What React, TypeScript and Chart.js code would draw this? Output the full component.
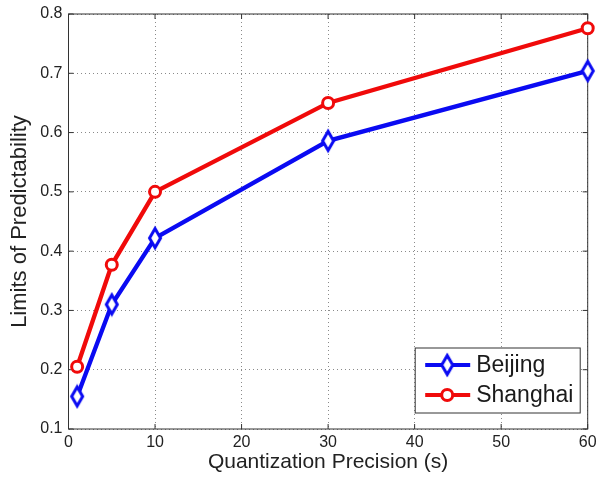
import React, { useEffect, useRef } from "react";
import { Chart, registerables } from "chart.js";

Chart.register(...registerables);

const precision = [1, 5, 10, 30, 60];
const beijing = [0.155, 0.31, 0.422, 0.586, 0.704];
const shanghai = [0.205, 0.377, 0.5, 0.65, 0.776];
const seriesNames = ["Beijing", "Shanghai"];
const xTitle = "Quantization Precision (s)";
const yTitle = "Limits of Predictability";

const BLUE = "#0a0af2";
const RED = "#f00a0a";
const FONT = "'Liberation Sans', Arial, Helvetica, sans-serif";

function makeDiamond(color: string): HTMLCanvasElement {
  const c = document.createElement("canvas");
  c.width = 18;
  c.height = 26;
  const ctx = c.getContext("2d")!;
  ctx.beginPath();
  ctx.moveTo(9, 3.5);
  ctx.lineTo(14.5, 13);
  ctx.lineTo(9, 22.5);
  ctx.lineTo(3.5, 13);
  ctx.closePath();
  ctx.fillStyle = "#ffffff";
  ctx.fill();
  ctx.lineWidth = 3;
  ctx.strokeStyle = color;
  ctx.lineJoin = "miter";
  ctx.stroke();
  return c;
}

export default function App() {
  const ref = useRef<HTMLCanvasElement | null>(null);
  useEffect(() => {
    if (!ref.current) return;
    const diamond = makeDiamond(BLUE);

    const boxPlugin = {
      id: "boxPlugin",
      beforeDatasetsDraw(chart: any) {
        const { ctx, chartArea } = chart;
        const { left, right, top, bottom } = chartArea;
        ctx.save();
        ctx.strokeStyle = "#333333";
        ctx.lineWidth = 1;
        ctx.strokeRect(left, top, right - left, bottom - top);
        const xs = chart.scales.x;
        const ys = chart.scales.y;
        const tl = 5;
        ctx.beginPath();
        xs.ticks.forEach((t: any) => {
          const px = xs.getPixelForValue(t.value);
          ctx.moveTo(px, bottom);
          ctx.lineTo(px, bottom - tl);
          ctx.moveTo(px, top);
          ctx.lineTo(px, top + tl);
        });
        ys.ticks.forEach((t: any) => {
          const py = ys.getPixelForValue(t.value);
          ctx.moveTo(left, py);
          ctx.lineTo(left + tl, py);
          ctx.moveTo(right, py);
          ctx.lineTo(right - tl, py);
        });
        ctx.stroke();
        ctx.restore();
      },
      afterDraw(chart: any) {
        const { ctx, chartArea } = chart;
        const bx1 = chartArea.right - 7.5;
        const bx0 = bx1 - 165;
        const by1 = chartArea.bottom - 16;
        const by0 = by1 - 65;
        ctx.save();
        ctx.fillStyle = "#ffffff";
        ctx.fillRect(bx0, by0, bx1 - bx0, by1 - by0);
        ctx.strokeStyle = "#333333";
        ctx.lineWidth = 1;
        ctx.strokeRect(bx0, by0, bx1 - bx0, by1 - by0);
        const rows = [by0 + 17, by0 + 47];
        const colors = [BLUE, RED];
        rows.forEach((yy, i) => {
          ctx.strokeStyle = colors[i];
          ctx.lineWidth = 4;
          ctx.beginPath();
          ctx.moveTo(bx0 + 10, yy);
          ctx.lineTo(bx0 + 55, yy);
          ctx.stroke();
          const mx = bx0 + 32;
          if (i === 0) {
            ctx.drawImage(diamond, mx - diamond.width / 2, yy - diamond.height / 2);
          } else {
            ctx.beginPath();
            ctx.arc(mx, yy, 5.5, 0, Math.PI * 2);
            ctx.fillStyle = "#ffffff";
            ctx.fill();
            ctx.lineWidth = 3;
            ctx.stroke();
          }
          ctx.fillStyle = "#1a1a1a";
          ctx.font = `23px ${FONT}`;
          ctx.textAlign = "left";
          ctx.textBaseline = "middle";
          ctx.fillText(seriesNames[i], bx0 + 61, yy + 1);
        });
        ctx.restore();
      },
    };

    const chart = new Chart(ref.current, {
      type: "line",
      data: {
        datasets: [
          {
            label: seriesNames[0],
            data: precision.map((x, i) => ({ x, y: beijing[i] })),
            borderColor: BLUE,
            backgroundColor: "#ffffff",
            borderWidth: 4.3,
            pointStyle: diamond as any,
            pointRadius: 7,
            clip: false as any,
          },
          {
            label: seriesNames[1],
            data: precision.map((x, i) => ({ x, y: shanghai[i] })),
            borderColor: RED,
            backgroundColor: "#ffffff",
            borderWidth: 4.3,
            pointStyle: "circle",
            pointRadius: 5.5,
            pointBorderWidth: 3,
            pointBackgroundColor: "#ffffff",
            clip: false as any,
          },
        ],
      },
      options: {
        animation: false,
        responsive: false,
        devicePixelRatio: 1,
        layout: { padding: { left: 0, right: 7, top: 14, bottom: 0 } },
        plugins: { legend: { display: false }, tooltip: { enabled: false } },
        scales: {
          x: {
            type: "linear",
            min: 0,
            max: 60,
            afterFit: (s: any) => {
              s.height = 51;
              s.paddingLeft = 0;
              s.paddingRight = 0;
            },
            ticks: {
              stepSize: 10,
              padding: 4,
              color: "#222222",
              font: { family: FONT, size: 16 },
              maxRotation: 0,
            },
            grid: { color: "#8a8a8a", lineWidth: 1, drawTicks: false },
            border: { display: false, dash: [1, 3] },
            title: {
              display: true,
              text: xTitle,
              color: "#222222",
              font: { family: FONT, size: 21 },
              padding: { top: 0, bottom: 4.8 },
            },
          },
          y: {
            type: "linear",
            min: 0.1,
            max: 0.8,
            afterFit: (s: any) => {
              s.width = 68.5;
              s.paddingTop = 0;
              s.paddingBottom = 0;
            },
            ticks: {
              stepSize: 0.1,
              padding: 6,
              color: "#222222",
              font: { family: FONT, size: 16 },
              callback: (v: any) => Number(v).toFixed(1),
            },
            grid: { color: "#8a8a8a", lineWidth: 1, drawTicks: false },
            border: { display: false, dash: [1, 3] },
            title: {
              display: true,
              text: yTitle,
              color: "#222222",
              font: { family: FONT, size: 22 },
              padding: { top: 6.8, bottom: 0 },
            },
          },
        },
      },
      plugins: [boxPlugin],
    });
    return () => chart.destroy();
  }, []);

  return (
    <div style={{ position: "absolute", left: 0, top: 0, width: 599, height: 480, background: "#ffffff" }}>
      <canvas ref={ref} width={599} height={480} style={{ display: "block", width: 599, height: 480 }} />
    </div>
  );
}
